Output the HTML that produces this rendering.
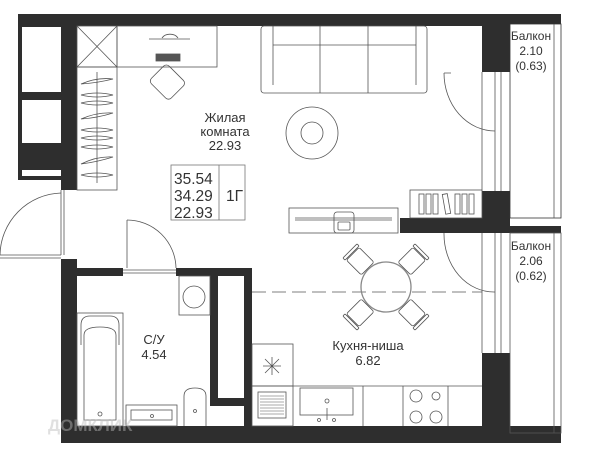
<!DOCTYPE html>
<html><head><meta charset="utf-8"><style>
html,body{margin:0;padding:0;background:#fff;width:600px;height:456px;overflow:hidden}
svg{display:block}
text{font-family:"Liberation Sans",sans-serif;fill:#333}
</style></head><body>
<svg width="600" height="456" viewBox="0 0 600 456" xmlns="http://www.w3.org/2000/svg">
<g fill="#2e2e2e">
<rect x="18" y="14" width="543" height="12"/>
<rect x="18" y="14" width="59" height="166"/>
<rect x="61" y="14" width="16" height="176"/>
<rect x="482" y="24" width="28" height="48"/>
<rect x="482" y="191" width="28" height="42"/>
<rect x="400" y="218" width="110" height="15"/>
<rect x="510" y="226" width="51" height="7"/>
<rect x="482" y="353" width="28" height="80"/>
<rect x="61" y="259" width="16" height="184"/>
<rect x="61" y="426" width="500" height="17"/>
<rect x="61" y="268" width="62" height="8"/>
<rect x="176" y="268" width="76" height="8"/>
<rect x="210" y="268" width="42" height="138"/>
<rect x="244" y="268" width="8" height="158"/>
</g>
<g fill="#fff">
<rect x="22" y="27" width="39" height="65"/>
<rect x="22" y="100" width="39" height="43"/>
<rect x="22" y="170" width="39" height="6"/>
<rect x="218" y="276" width="26" height="122"/>
<rect x="510" y="24" width="51" height="194" />
</g>
<g fill="none" stroke="#555" stroke-width="0.8">
<rect x="510" y="24" width="51" height="194" stroke="#333"/>
<line x1="554" y1="24" x2="554" y2="218"/>
<rect x="510" y="233" width="51" height="200"/>
<line x1="554" y1="233" x2="554" y2="433"/>
<line x1="482" y1="72" x2="482" y2="191"/><line x1="495" y1="72" x2="495" y2="191"/><line x1="501" y1="72" x2="501" y2="191"/>
<line x1="482" y1="233" x2="482" y2="353"/><line x1="495" y1="233" x2="495" y2="353"/><line x1="501" y1="233" x2="501" y2="353"/>
<path d="M444,73 L451,73 M444,73 A51,58 0 0 0 495,131"/>
<path d="M444,233 A50,58 0 0 0 495,292"/>
<line x1="61" y1="190" x2="61" y2="255"/><line x1="64" y1="190" x2="64" y2="255"/>
<line x1="0" y1="255" x2="61" y2="255"/><line x1="0" y1="258" x2="61" y2="258"/>
<path d="M0,255 A63,63 0 0 1 61,193"/>
<line x1="127" y1="220" x2="127" y2="268"/><line x1="123" y1="270" x2="176" y2="270"/><line x1="123" y1="273" x2="176" y2="273"/>
<path d="M127,220 A49,49 0 0 1 176,268"/>
<rect x="77" y="26" width="40" height="41"/>
<line x1="77" y1="26" x2="117" y2="67"/><line x1="117" y1="26" x2="77" y2="67"/>
<rect x="77" y="67" width="40" height="123"/>
<line x1="97" y1="72" x2="97" y2="183"/>
<g>
<path d="M81,84 Q97,77 113,79 Q97,83 81,84Z"/>
<path d="M81,95 Q97,91 113,95 Q97,99 81,95Z"/>
<path d="M81,103 Q97,99 113,103 Q97,107 81,103Z"/>
<path d="M81,119 Q97,112 113,113 Q97,118 81,119Z"/>
<path d="M81,130 Q97,126 113,130 Q97,134 81,130Z"/>
<path d="M81,138 Q97,134 113,138 Q97,142 81,138Z"/>
<path d="M81,147 Q97,143 113,147 Q97,151 81,147Z"/>
<path d="M81,164 Q97,156 113,157 Q97,162 81,164Z"/>
<path d="M81,175 Q97,171 113,175 Q97,179 81,175Z"/>
</g>
<rect x="117" y="26" width="100" height="41"/>
<path d="M149,39 L190,39 M162,38 A9,7 0 0 1 178,38"/>
<rect x="156" y="54" width="24" height="7" fill="#555"/>
<rect x="152" y="74" width="28" height="25" rx="4" transform="rotate(45 172 86)"/>
<rect x="261" y="26" width="166" height="67" rx="3"/>
<line x1="273" y1="45" x2="416" y2="45"/>
<line x1="273" y1="26" x2="273" y2="85"/><line x1="416" y1="26" x2="416" y2="85"/>
<line x1="320" y1="26" x2="320" y2="93"/><line x1="368" y1="26" x2="368" y2="93"/>
<circle cx="312" cy="133" r="26"/><circle cx="312" cy="133" r="11"/>
<rect x="171" y="165" width="74" height="55" stroke="#777"/>
<line x1="219" y1="165" x2="219" y2="220" stroke="#777"/>
<rect x="410" y="190" width="72" height="28"/>
<rect x="419" y="194" width="5" height="20"/><rect x="426" y="194" width="5" height="20"/><rect x="433" y="194" width="5" height="20"/>
<rect x="444" y="194" width="5" height="20" transform="rotate(-10 446 204)"/>
<rect x="455" y="194" width="5" height="20"/><rect x="462" y="194" width="5" height="20"/><rect x="469" y="194" width="5" height="20"/>
<rect x="289" y="208" width="109" height="25"/>
<line x1="295" y1="218" x2="392" y2="218"/><line x1="295" y1="220" x2="392" y2="220"/>
<rect x="334" y="212" width="20" height="21" rx="3"/><rect x="338" y="222" width="12" height="8" rx="1"/>
<line x1="252" y1="292" x2="482" y2="292" stroke-dasharray="14,6"/>
<circle cx="386" cy="287" r="25" stroke="#888" stroke-width="1.3"/>
<g transform="translate(386 287)">
<g transform="rotate(-45)"><rect x="-9" y="-47" width="18" height="21" rx="2"/><rect x="-10" y="-51" width="20" height="3" rx="1"/></g>
<g transform="rotate(45)"><rect x="-9" y="-47" width="18" height="21" rx="2"/><rect x="-10" y="-51" width="20" height="3" rx="1"/></g>
<g transform="rotate(135)"><rect x="-9" y="-47" width="18" height="21" rx="2"/><rect x="-10" y="-51" width="20" height="3" rx="1"/></g>
<g transform="rotate(225)"><rect x="-9" y="-47" width="18" height="21" rx="2"/><rect x="-10" y="-51" width="20" height="3" rx="1"/></g>
</g>
<rect x="179" y="276" width="31" height="39"/><circle cx="194" cy="297" r="11"/>
<rect x="77" y="313" width="46" height="113"/>
<path d="M81,345 L81,325 Q81,316 90,316 L110,316 Q119,316 119,325 L119,345"/>
<path d="M84,355 L84,335 Q84,327 100,327 Q116,327 116,335 L116,355 L116,420 L84,420 Z"/>
<circle cx="100" cy="414" r="2"/>
<rect x="126" y="405" width="51" height="21"/><rect x="131" y="410" width="41" height="10"/>
<circle cx="152" cy="416" r="1.5"/>
<path d="M184,426 L184,396 Q184,388 195,388 Q206,388 206,396 L206,426"/>
<circle cx="195" cy="411" r="1.5"/>
<rect x="252" y="344" width="41" height="42"/>
<path d="M265,359 L279,373 M279,359 L265,373 M272,357 L272,375 M263,366 L281,366"/>
<rect x="252" y="386" width="41" height="40"/>
<rect x="258" y="392" width="28" height="26"/>
<g stroke-width="0.5"><line x1="260" y1="396" x2="284" y2="396"/><line x1="260" y1="399" x2="284" y2="399"/><line x1="260" y1="402" x2="284" y2="402"/><line x1="260" y1="405" x2="284" y2="405"/><line x1="260" y1="408" x2="284" y2="408"/><line x1="260" y1="411" x2="284" y2="411"/><line x1="260" y1="414" x2="284" y2="414"/></g>
<line x1="293" y1="386" x2="482" y2="386"/>
<rect x="300" y="388" width="53" height="27"/>
<line x1="363" y1="386" x2="363" y2="426"/><line x1="403" y1="386" x2="403" y2="426"/><line x1="448" y1="386" x2="448" y2="426"/>
<circle cx="327" cy="401" r="2"/><line x1="327" y1="408" x2="327" y2="420"/>
<circle cx="319" cy="420" r="1.5"/><circle cx="334" cy="420" r="1.5"/>
<circle cx="416" cy="396" r="6"/><circle cx="436" cy="396" r="4"/><circle cx="416" cy="417" r="6"/><circle cx="436" cy="417" r="6"/>
</g>
<g font-size="13" text-anchor="middle">
<text x="225" y="122">Жилая</text>
<text x="225" y="136">комната</text>
<text x="225" y="150">22.93</text>
<text x="154" y="344">С/У</text>
<text x="154" y="359">4.54</text>
<text x="368" y="350">Кухня-ниша</text>
<text x="368" y="365">6.82</text>
<text x="531" y="40" font-size="12">Балкон</text>
<text x="531" y="55" font-size="12">2.10</text>
<text x="531" y="70" font-size="12">(0.63)</text>
<text x="531" y="250" font-size="12">Балкон</text>
<text x="531" y="265" font-size="12">2.06</text>
<text x="531" y="280" font-size="12">(0.62)</text>
</g>
<g font-size="15.5">
<text x="174" y="184">35.54</text>
<text x="174" y="201">34.29</text>
<text x="174" y="218">22.93</text>
<text x="226" y="201">1Г</text>
</g>
<text x="48" y="431" font-size="17" font-weight="bold" style="fill:#bbb;opacity:0.45">ДОМКЛИК</text>
</svg>
</body></html>
